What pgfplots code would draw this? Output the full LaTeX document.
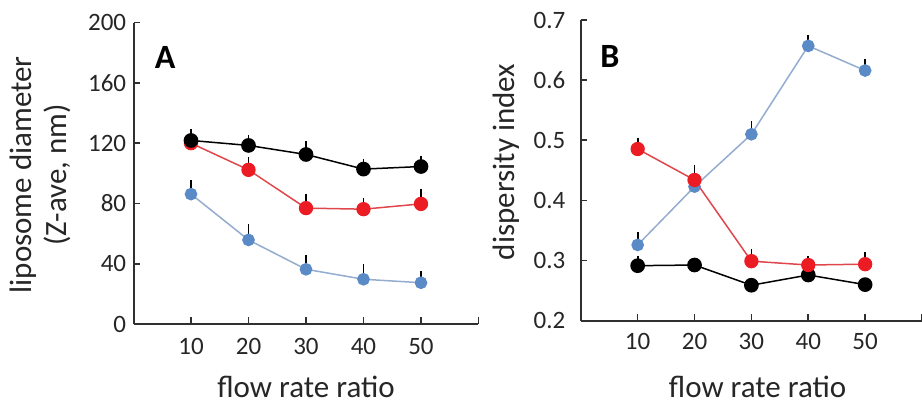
\documentclass[border=0pt]{standalone}
\usepackage{fontspec}
\setmainfont{Carlito}
\usepackage{pgfplots}
\pgfplotsset{compat=1.18}
\definecolor{pblue}{HTML}{5B8BC7}
\definecolor{pbluel}{HTML}{93ACD0}
\definecolor{pred}{HTML}{EC1C24}
\definecolor{predl}{HTML}{E0474C}
\definecolor{axgray}{HTML}{303030}

\pgfplotsset{
  panel/.style={
    scale only axis, clip=false,
    axis x line=bottom, axis y line=left,
    axis line style={axgray, line width=1pt, -},
    tick align=inside, major tick length=3.3pt,
    tick style={axgray, line width=0.8pt},
    xmin=0, xmax=60, xtick={10,20,...,60}, xticklabels={10,20,30,40,50,},
    tick label style={font=\fontsize{12.5}{14}\selectfont, text=black!85},
    label style={font=\fontsize{15.5}{17.5}\selectfont, text=black!85},
    /pgf/number format/assume math mode=true,
  },
  ser/.style={line width=0.75pt, mark=*,
    /pgfplots/error bars/y dir=plus, /pgfplots/error bars/y explicit,
    /pgfplots/error bars/error mark=-,
    /pgfplots/error bars/error bar style={black, line width=0.9pt},
    /pgfplots/error bars/error mark options={black, line width=0.9pt, mark size=2pt}},
}

\begin{document}
\begin{tikzpicture}
\useasboundingbox (0,0) rectangle (461pt,202pt);

% panel A
\begin{axis}[panel, at={(66.75pt,40pt)}, anchor=south west,
  width=172.5pt, height=150.7pt,
  ymin=0, ymax=200, ytick={0,40,...,200},
  yticklabel style={anchor=east, inner sep=0pt, xshift=-3.5pt},
  xticklabel style={anchor=north, inner sep=0pt, yshift=-7pt},
  xlabel={flow rate ratio},
  xlabel style={at={(axis description cs:0.5,0)}, anchor=center, yshift=-31.5pt},
  ylabel={liposome diameter\\(Z-ave, nm)},
  ylabel style={align=center, at={(axis description cs:-0.27,0.495)}, anchor=center},
]
\addplot[ser, color=pbluel, mark options={pblue, mark size=2.8pt}] coordinates {
  (10,86.2) +- (0,7) (20,55.8) +- (0,8) (30,36.3) +- (0,7) (40,29.7) +- (0,7.5) (50,27.4) +- (0,5)};
\addplot[ser, color=predl, mark options={pred, mark size=3.2pt}] coordinates {
  (10,120) +- (0,3) (20,102.3) +- (0,6) (30,76.9) +- (0,6.5) (40,76.2) +- (0,5) (50,79.7) +- (0,7.5)};
\addplot[ser, color=black, mark options={black, mark size=3.3pt}] coordinates {
  (10,121.8) +- (0,5) (20,118.5) +- (0,4) (30,112.5) +- (0,6) (40,102.8) +- (0,4) (50,104.5) +- (0,4.5)};
\node[font=\fontsize{17}{17}\bfseries\selectfont] at (axis cs:5.5,177) {A};
\end{axis}

% panel B
\begin{axis}[panel, at={(290.4pt,41.65pt)}, anchor=south west,
  width=170.6pt, height=150.35pt,
  ymin=0.2, ymax=0.7, ytick={0.2,0.3,...,0.7},
  yticklabels={0.2,0.3,0.4,0.5,0.6,0.7},
  yticklabel style={anchor=east, inner sep=0pt, xshift=-7.5pt},
  xticklabel style={anchor=north, inner sep=0pt, yshift=-6pt},
  xlabel={flow rate ratio},
  xlabel style={at={(axis description cs:0.518,0)}, anchor=center, yshift=-33pt},
  ylabel={dispersity index},
  ylabel style={at={(axis description cs:-0.22,0.528)}, anchor=center},
]
\addplot[ser, color=pbluel, mark options={pblue, mark size=2.8pt}] coordinates {
  (10,0.326) +- (0,0.015) (20,0.423) +- (0,0.01) (30,0.510) +- (0,0.015) (40,0.657) +- (0,0.011) (50,0.616) +- (0,0.012)};
\addplot[ser, color=black, mark options={black, mark size=3.3pt}] coordinates {
  (10,0.2915) +- (0,0.01) (20,0.2926) +- (0,0.005) (30,0.259) +- (0,0.005) (40,0.276) +- (0,0.005) (50,0.260) +- (0,0.005)};
\addplot[ser, color=predl, mark options={pred, mark size=3.2pt}] coordinates {
  (10,0.4855) +- (0,0.012) (20,0.434) +- (0,0.018) (30,0.299) +- (0,0.013) (40,0.2926) +- (0,0.008) (50,0.294) +- (0,0.013)};
\node[font=\fontsize{17}{17}\bfseries\selectfont] at (axis cs:5.1,0.639) {B};
\end{axis}
\end{tikzpicture}
\end{document}
